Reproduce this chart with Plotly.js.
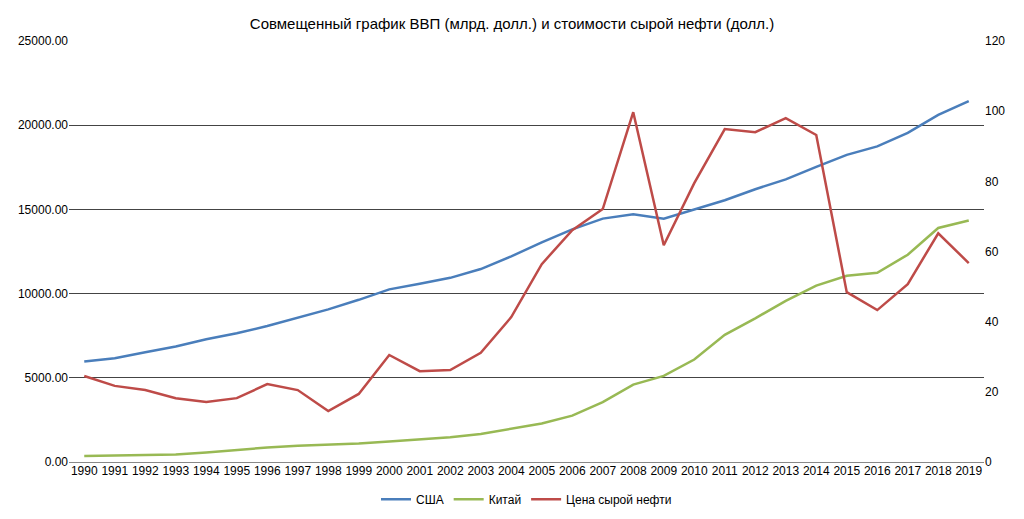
<!DOCTYPE html>
<html><head><meta charset="utf-8">
<script src="https://cdn.plot.ly/plotly-3.0.1.min.js"></script>
<style>body{margin:0}</style></head>
<body><div id="chart" style="width:1024px;height:519px"></div>
<script>
var years = [];
for (var y = 1990; y <= 2019; y++) years.push(String(y));

var usa = [5963, 6158, 6520, 6859, 7287, 7640, 8073, 8578, 9063, 9631, 10252, 10582, 10936, 11458, 12214,
  13037, 13815, 14452, 14713, 14449, 14992, 15543, 16197, 16785, 17527, 18238, 18745, 19543, 20612, 21433];
var china = [361, 383, 427, 445, 564, 734, 864, 962, 1029, 1094, 1211, 1339, 1471, 1660, 1955,
  2286, 2752, 3552, 4598, 5110, 6087, 7552, 8532, 9570, 10476, 11062, 11233, 12310, 13895, 14343];
var oil = [24.5, 21.7, 20.5, 18.2, 17.1, 18.2, 22.2, 20.5, 14.5, 19.4, 30.5, 25.9, 26.2, 31.1, 41.3,
  56.4, 66.1, 72.1, 99.7, 61.8, 79.5, 94.9, 94.0, 98.0, 93.2, 48.4, 43.3, 50.7, 65.2, 56.7];

var traces = [
  {x: years, y: usa, name: 'США', type: 'scatter', mode: 'lines', line: {color: '#4a7ebb', width: 2.5}},
  {x: years, y: china, name: 'Китай', type: 'scatter', mode: 'lines', line: {color: '#98b954', width: 2.5}},
  {x: years, y: oil, name: 'Цена сырой нефти', type: 'scatter', mode: 'lines', yaxis: 'y2', line: {color: '#be4b48', width: 2.5}}
];

var layout = {
  width: 1024, height: 519,
  margin: {l: 69, r: 40, t: 41, b: 57},
  font: {family: 'Liberation Sans, Arial', size: 12, color: '#000'},
  title: {text: 'Совмещенный график ВВП (млрд. долл.) и стоимости сырой нефти (долл.)', font: {size: 15}, x: 0.5, y: 0.965},
  showlegend: true,
  legend: {orientation: 'h', x: 0.5, xanchor: 'center', yref: 'container', y: 0.01, yanchor: 'bottom', font: {size: 12}},
  xaxis: {type: 'category', range: [-0.5, 29.5], showgrid: false, showline: false, ticks: '', tickangle: 0, tickfont: {size: 12}, automargin: false},
  yaxis: {range: [0, 25000], dtick: 5000, tickformat: '.2f', gridcolor: '#444', gridwidth: 1, zeroline: true, zerolinecolor: '#888', ticks: '', tickfont: {size: 12}, automargin: false},
  yaxis2: {range: [0, 120], dtick: 20, overlaying: 'y', side: 'right', showgrid: false, zeroline: false, ticks: '', tickfont: {size: 12}, automargin: false},
  plot_bgcolor: '#fff', paper_bgcolor: '#fff'
};

Plotly.newPlot('chart', traces, layout, {displayModeBar: false});
</script></body></html>
